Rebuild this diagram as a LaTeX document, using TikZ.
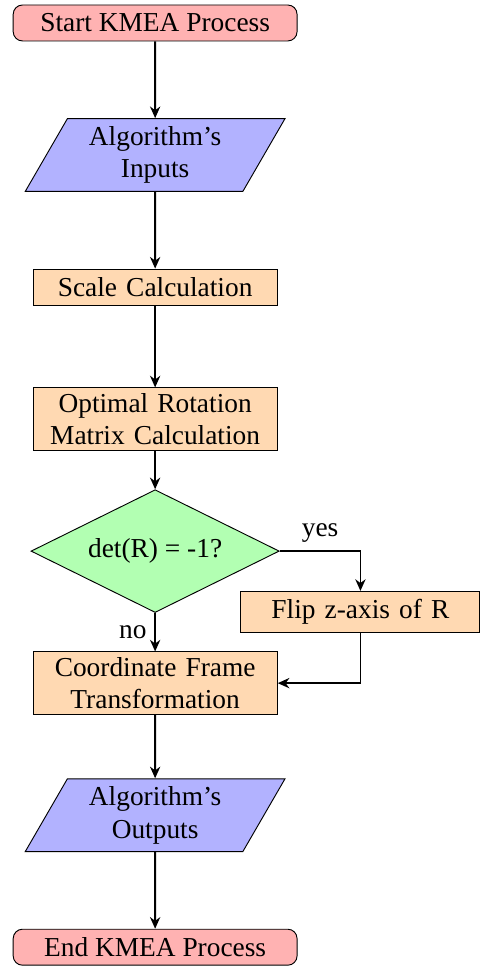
\documentclass[tikz,border=0pt]{standalone}
\usepackage{fontspec}
\setmainfont{Liberation Serif}
\usepackage{tikz}
\usetikzlibrary{arrows.meta,shapes.geometric,positioning}

\begin{document}
\begin{tikzpicture}[->,>={Stealth[length=5pt,width=4.4pt,inset=1.6pt]},thick,node distance=2cm,
	font=\fontsize{11.8}{14}\selectfont,
	startstop/.style={rectangle,rounded corners,draw,thin,fill=red!30,minimum width=4.3cm,minimum height=0.545cm,inner sep=2pt},
	io/.style={trapezium,trapezium left angle=64,trapezium right angle=116,trapezium stretches=true,draw,thin,fill=blue!30,minimum width=3.94cm,minimum height=1.1cm,align=center},
	process/.style={rectangle,draw,thin,fill=orange!30,minimum width=3.7cm,minimum height=0.545cm,text width=3.3cm,align=center,inner ysep=2.3pt},
	decision/.style={diamond,aspect=2,draw,thin,fill=green!30,minimum width=3.76cm,minimum height=1.86cm,inner sep=0pt}]
	
	\useasboundingbox (-2.35,0.348) rectangle (4.91,-14.30);
	
	\node[startstop] (start) {Start KMEA Process};
	\node[io] (in) [below of=start] {Algorithm's\\Inputs};
	\node[process] (scale) [below of=in] {Scale Calculation};
	\node[process] (rot) [below of=scale] {Optimal Rotation\\Matrix Calculation};
	\node[decision] (dec) [below of=rot] {det(R) = -1?};
	\node[process,minimum width=3.62cm,minimum height=0.62cm] (flip) [right of=dec,xshift=1.11cm,yshift=-0.92cm] {Flip z-axis of R};
	\node[process] (coord) [below of=dec] {Coordinate Frame\\Transformation};
	\node[io] (out) [below of=coord] {Algorithm's\\Outputs};
	\node[startstop] (stop) [below of=out] {End KMEA Process};
	
	\path (start) edge (in)
	      (in) edge (scale)
	      (scale) edge (rot)
	      (rot) edge (dec)
	      (dec) edge node[left] {no} (coord)
	      (coord) edge (out)
	      (out) edge (stop);
	\draw (dec) -| node[pos=0.25,above] {yes} (flip);
	\draw (flip) |- (coord);
\end{tikzpicture}
\end{document}
